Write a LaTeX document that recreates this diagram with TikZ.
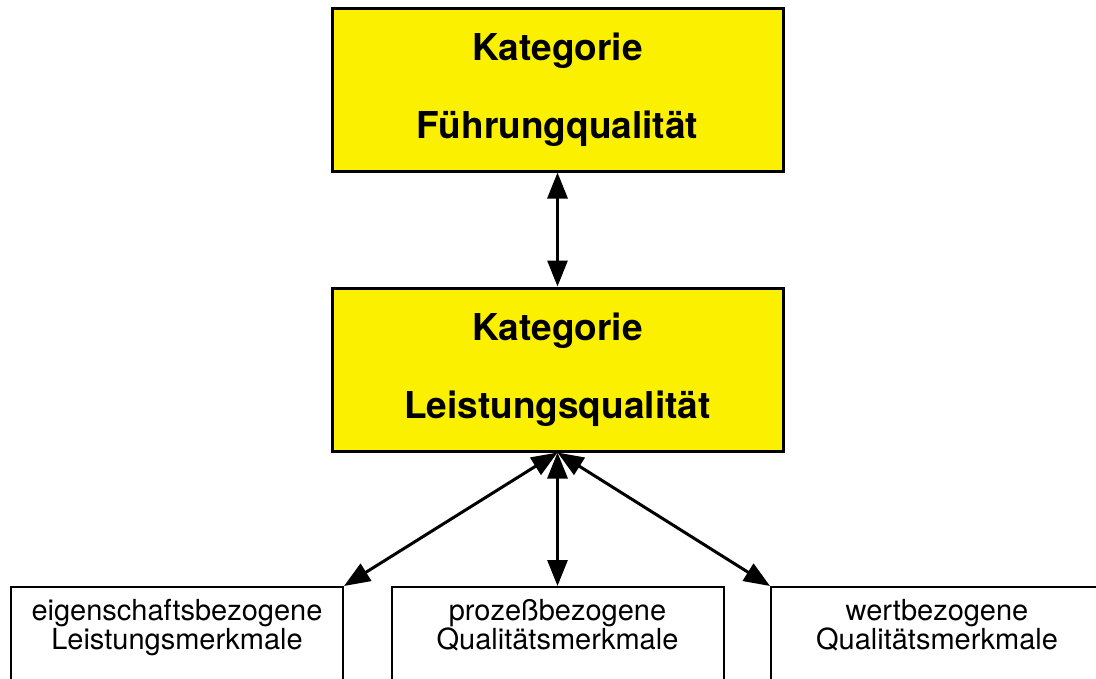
\documentclass[tikz,border=0pt]{standalone}
\usepackage{fontspec}
\setmainfont{TeX Gyre Heros}
\usetikzlibrary{arrows.meta}
\definecolor{katgelb}{RGB}{250,240,0}
\begin{document}
\begin{tikzpicture}[x=1pt,y=-1pt,>={Triangle[length=26pt,width=20pt]},line join=miter,line width=3pt]
	\tikzset{kategorie/.style={draw,fill=katgelb,minimum width=451pt,minimum height=163pt,inner sep=0pt,
			align=center,font=\fontsize{37}{40}\selectfont\bfseries},
		merkmal/.style={draw,line width=2pt,anchor=north,minimum width=332pt,inner xsep=0pt,inner ysep=12pt,
			align=center,text depth=90pt,font=\fontsize{29}{29}\selectfont}}
	\useasboundingbox (0,0) rectangle (1096,678);
	\clip (0,0) rectangle (1096,678);
	% Kategorien
	\node[kategorie] (fuehrung) at (557.5,89.5) {Kategorie\\[38pt]Führungqualität};
	\node[kategorie] (leistung) at (557.5,369.5) {Kategorie\\[38pt]Leistungsqualität};
	% Merkmale
	\node[merkmal] (eigen) at (177,586) {eigenschaftsbezogene\\Leistungsmerkmale};
	\node[merkmal] (prozess) at (557.5,586) {prozeßbezogene\\Qualitätsmerkmale};
	\node[merkmal] (wert) at (937,586) {wertbezogene\\Qualitätsmerkmale};
	% Pfeile
	\draw[<->] (fuehrung.south) -- (leistung.north);
	\draw[<->] (leistung.south) -- (eigen.north east);
	\draw[<->] (leistung.south) -- (prozess.north);
	\draw[<->] (leistung.south) -- (wert.north west);
\end{tikzpicture}
\end{document}
